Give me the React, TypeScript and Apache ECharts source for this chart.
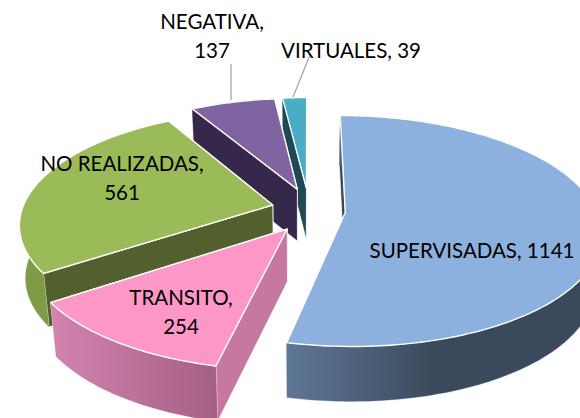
import React, { useEffect, useRef } from "react";
import * as echarts from "echarts";

// Data, in pie order (clockwise from 12 o'clock)
const categories = ["SUPERVISADAS", "TRANSITO", "NO REALIZADAS", "NEGATIVA", "VIRTUALES"];
const values = [1141, 254, 561, 137, 39];

// Styling by slice
const topColors = ["#8cb1de", "#fd97c6", "#9bbb59", "#8064a2", "#4bacc6"];
const cutColors = ["#3a4a5c", "#c6789f", "#535f2d", "#35284a", "#1f4a55"];
const rimStops = [
  [[0, "#5f7796"], [0.47, "#3a4a5c"], [1, "#3a4a5c"]],
  [[0, "#d384b0"], [1, "#a56083"]],
  [[0, "#7f9b48"], [1, "#7f9b48"]],
  [[0, "#35284a"], [1, "#35284a"]],
  [[0, "#1f4a55"], [1, "#1f4a55"]],
];
const paintOrder = [3, 4, 2, 1, 0]; // higher paints later
const labelLines = [[true], [false, true], [false, true], [false, true], [true]];
const labelPos = [
  [472, 235],
  [181, 282],
  [122, 148],
  [212, 6],
  [351, 35],
];
const leaderLines: (number[] | null)[] = [
  null,
  null,
  null,
  [231, 64, 231, 100],
  [310, 55, 293, 97],
];

// Projection of the tilted disc
const cx = 308.5;
const cy = 210;
const rx = 251;
const ry = 111.7;
const persp = 0.16;
const explodeU = 0.147;
const explodeV = 0.2;
const rad = (d: number) => (d * Math.PI) / 180;

const total = values.reduce((a, b) => a + b, 0);
const spans = values.reduce<number[][]>((acc, v) => {
  const start = acc.length ? acc[acc.length - 1][1] : 0;
  acc.push([start, start + (v / total) * 360]);
  return acc;
}, []);

function project(u: number, v: number): number[] {
  const s = 1 / (1 + persp * v);
  return [cx + rx * u * s, cy - ry * v * s];
}
function drop(p: number[]): number[] {
  return [p[0] + (300 - p[0]) * 0.022, p[1] + 52 + (p[1] - 200) * 0.02];
}

function renderItem(params: any) {
  const i = params.dataIndex;
  const [a0, a1] = spans[i];
  const bis = rad((a0 + a1) / 2);
  const ou = explodeU * Math.sin(bis);
  const ov = explodeV * Math.cos(bis);
  const apex = project(ou, ov);
  const arc: number[][] = [];
  const steps = Math.max(4, Math.ceil(a1 - a0));
  for (let k = 0; k <= steps; k++) {
    const t = rad(a0 + ((a1 - a0) * k) / steps);
    arc.push(project(ou + Math.sin(t), ov + Math.cos(t)));
  }
  const arcLow = arc.map(drop);
  const z = paintOrder[i] * 10;
  const first = arc[0];
  const last = arc[arc.length - 1];
  const wall = { stroke: "#ffffff", lineWidth: 0.8 };
  const xs = arc.map((p) => p[0]);
  const gradX0 = Math.min(...xs);
  const gradX1 = Math.max(...xs);
  const children: any[] = [
    {
      type: "polygon",
      z2: z,
      shape: { points: [apex, last, arcLow[arcLow.length - 1], drop(apex)] },
      style: { fill: cutColors[i], ...wall },
    },
    {
      type: "polygon",
      z2: z + 1,
      shape: { points: [apex, first, arcLow[0], drop(apex)] },
      style: { fill: cutColors[i], ...wall },
    },
    {
      type: "polygon",
      z2: z + 2,
      shape: { points: [...arc, ...arcLow.slice().reverse()] },
      style: {
        fill: new echarts.graphic.LinearGradient(
          gradX0,
          0,
          gradX1,
          0,
          rimStops[i].map((s) => ({ offset: s[0] as number, color: s[1] as string })),
          true
        ),
        stroke: rimStops[i][0][1] as string,
        lineWidth: 0.3,
      },
    },
    {
      type: "polygon",
      z2: z + 3,
      shape: { points: [apex, ...arc] },
      style: { fill: topColors[i], stroke: "#ffffff", lineWidth: 1.4, lineJoin: "round" },
    },
  ];
  const leader = leaderLines[i];
  if (leader) {
    children.push({
      type: "line",
      z2: 90,
      shape: { x1: leader[0], y1: leader[1], x2: leader[2], y2: leader[3] },
      style: { stroke: "#a6a6a6", lineWidth: 1.3 },
    });
  }
  const wrapped = labelLines[i][0] !== true;
  children.push({
    type: "text",
    z2: 100,
    x: labelPos[i][0],
    y: labelPos[i][1],
    style: {
      text: wrapped
        ? `${categories[i]},\n${values[i]}`
        : `${categories[i]}, ${values[i]}`,
      fill: "#000000",
      font: '20.5px Lato, "Open Sans", sans-serif',
      align: "center",
      verticalAlign: "top",
      lineHeight: 29,
    },
  });
  return { type: "group", children };
}

export default function App() {
  const ref = useRef<HTMLDivElement>(null);
  useEffect(() => {
    const chart = echarts.init(ref.current!, undefined, { renderer: "svg" });
    chart.setOption({
      animation: false,
      backgroundColor: "#ffffff",
      series: [
        {
          type: "custom",
          coordinateSystem: "none",
          renderItem,
          silent: true,
          data: categories.map((name, i) => ({ name, value: values[i] })),
        },
      ],
    });
    return () => chart.dispose();
  }, []);
  return (
    <div
      ref={ref}
      style={{ position: "fixed", left: 0, top: 0, width: 580, height: 418 }}
    />
  );
}
